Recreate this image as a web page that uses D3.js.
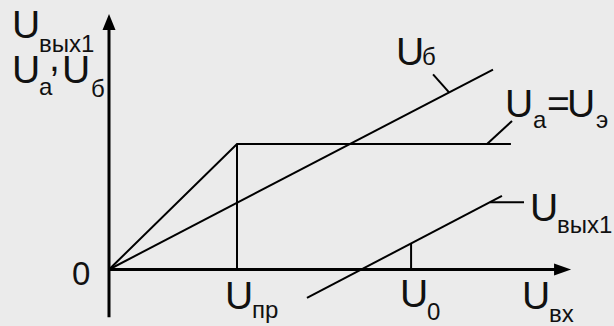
<!doctype html>
<html>
<head>
<meta charset="utf-8">
<script src="https://cdn.jsdelivr.net/npm/d3@7"></script>
<style type="text/css">
  body { margin: 0; background: #ebebeb; }
  svg { display: block; background: #ebebeb; }
  text { font-family: "Liberation Sans", Arial, sans-serif; fill: #111; }
</style>
</head>
<body>
<svg width="614" height="326"></svg>
<script type="text/javascript">

// input voltage (x) and curves
var uPr = 3;                       // U_пр, break point
var uaX = [0, uPr, 9.42];          // U_a = U_э
var uaY = [0, 3, 3];
var ubX = [0, 9];                  // U_б
var ubY = [0, 4.78];
var outX = [4.64, 9.21];           // U_вых1
var outY = [-0.68, 1.76];
var u0 = 7.08, u0Y = 0.61;         // U_0 marker
var axisX = [0, 10.83];
var axisY = [-1.14, 6.11];

var svg = d3.select("svg");
var x = d3.scaleLinear().domain([0, 3]).range([109, 237]);
var y = d3.scaleLinear().domain([0, 3]).range([269.5, 144]);

function seg(x1, y1, x2, y2, w) {
  svg.append("line")
    .attr("x1", x1).attr("y1", y1).attr("x2", x2).attr("y2", y2)
    .attr("stroke", "#000").attr("stroke-width", w);
}

// axes
seg(x(0), y(axisY[0]), x(0), y(axisY[1]) + 14, 3);
seg(x(axisX[0]), y(0), x(axisX[1]) - 14, y(0), 3);
svg.append("path")
  .attr("d", "M" + x(0) + "," + y(axisY[1]) + "l-6.5,16h13z")
  .attr("fill", "#000");
svg.append("path")
  .attr("d", "M" + x(axisX[1]) + "," + y(0) + "l-17,-6v12z")
  .attr("fill", "#000");

var line = d3.line().x(d => x(d[0])).y(d => y(d[1]));
function curve(xs, ys) {
  svg.append("path")
    .attr("d", line(d3.zip(xs, ys)))
    .attr("fill", "none").attr("stroke", "#000").attr("stroke-width", 2);
}
curve(uaX, uaY);
curve(ubX, ubY);
curve(outX, outY);
curve([uPr, uPr], [0, uaY[1]]);
curve([u0, u0], [0, u0Y]);

// leaders
function onLine(xs, ys, v) {
  return ys[0] + (ys[1] - ys[0]) * (v - xs[0]) / (xs[1] - xs[0]);
}
seg(x(7.97), y(onLine(ubX, ubY, 7.97)), x(7.97) - 16, y(onLine(ubX, ubY, 7.97)) - 18, 2);
seg(x(8.86), y(3), x(8.86) + 25, y(3) - 23, 2);
seg(x(8.93), y(onLine(outX, outY, 8.93)), x(8.93) + 34, y(onLine(outX, outY, 8.93)), 2);

// labels
function t(s, px, py, size) {
  svg.append("text").attr("x", px).attr("y", py)
    .style("font-size", size + "px").text(s);
}
var big = 39, sub = 24;
t("U", 12, 38, big);   t("вых1", 39, 52, sub);
t("U", 12, 83, big);   t("а", 39, 95, sub);
t(",", 49, 71, big);
t("U", 62, 83, big);   t("б", 91, 97, sub);

t("U", 396, 65, big);  t("б", 422, 65, sub);
t("U", 505, 117, big); t("а", 533, 128, sub);
t("=", 547, 117, big);
t("U", 567, 117, big); t("э", 596, 128, sub);
t("U", 530, 221, big); t("вых1", 557, 233, sub);

t("0", 72, 285, 33);
t("U", 225, 309, big); t("пр", 252, 318, sub);
t("U", 400, 307, big); t("0", 427, 320, sub);
t("U", 522, 309, big); t("вх", 549, 322, sub);

</script>
</body>
</html>
